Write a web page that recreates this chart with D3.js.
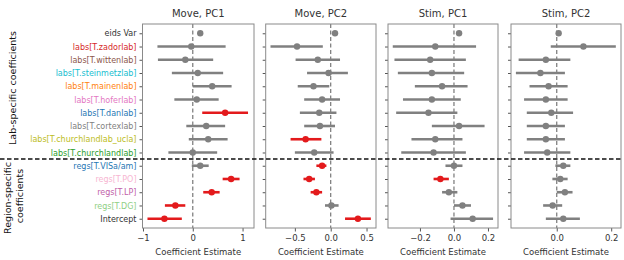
<!DOCTYPE html>
<html>
<head>
<meta charset="utf-8">
<script src="https://cdn.jsdelivr.net/npm/d3@7"></script>
<style>
  body { margin: 0; background: #fff; }
  text { font-family: "DejaVu Sans", sans-serif; }
</style>
</head>
<body>
<div id="chart"></div>
<script>
// row labels, top to bottom
const rows = ["eids Var", "labs[T.zadorlab]", "labs[T.wittenlab]", "labs[T.steinmetzlab]",
  "labs[T.mainenlab]", "labs[T.hoferlab]", "labs[T.danlab]", "labs[T.cortexlab]",
  "labs[T.churchlandlab_ucla]", "labs[T.churchlandlab]", "regs[T.VISa/am]", "regs[T.PO]",
  "regs[T.LP]", "regs[T.DG]", "Intercept"];
const rowColors = ["#333333", "#d62728", "#8c564b", "#17becf", "#ff7f0e", "#e377c2", "#1f77b4",
  "#7f7f7f", "#bcbd22", "#2ca02c", "#1f77b4", "#f7b6d2", "#c15fa9", "#8fcf84", "#333333"];

const titles = ["Move, PC1", "Move, PC2", "Stim, PC1", "Stim, PC2"];

// estimates and 95% intervals, one set per panel
const movePC1_est = [0.15, -0.03, -0.15, 0.10, 0.39, 0.08, 0.65, 0.27, 0.31, 0.00, 0.15, 0.77, 0.38, -0.35, -0.57];
const movePC1_lo  = [0.15, -0.71, -0.70, -0.42, 0.00, -0.37, 0.19, -0.13, -0.08, -0.49, -0.02, 0.60, 0.21, -0.56, -0.91];
const movePC1_hi  = [0.15, 0.66, 0.41, 0.61, 0.78, 0.52, 1.11, 0.65, 0.70, 0.49, 0.32, 0.94, 0.54, -0.15, -0.22];
const movePC1_sig = [0, 0, 0, 0, 0, 0, 1, 0, 0, 0, 0, 1, 1, 1, 1];

const movePC2_est = [0.06, -0.47, -0.18, -0.03, -0.24, -0.12, -0.16, -0.15, -0.35, -0.23, -0.12, -0.30, -0.20, 0.01, 0.38];
const movePC2_lo  = [0.06, -0.84, -0.49, -0.33, -0.46, -0.37, -0.43, -0.37, -0.56, -0.50, -0.20, -0.38, -0.28, -0.08, 0.20];
const movePC2_hi  = [0.06, -0.11, 0.13, 0.24, -0.02, 0.13, 0.08, 0.06, -0.13, 0.04, -0.06, -0.22, -0.12, 0.11, 0.56];
const movePC2_sig = [0, 0, 0, 0, 0, 0, 0, 0, 1, 0, 1, 1, 1, 0, 1];

const stimPC1_est = [0.03, -0.11, -0.14, -0.13, -0.07, -0.13, -0.15, 0.03, -0.11, -0.12, 0.00, -0.08, -0.03, 0.05, 0.11];
const stimPC1_lo  = [0.03, -0.36, -0.35, -0.33, -0.23, -0.30, -0.34, -0.13, -0.25, -0.31, -0.05, -0.12, -0.07, 0.00, -0.02];
const stimPC1_hi  = [0.03, 0.13, 0.07, 0.06, 0.08, 0.04, 0.02, 0.18, 0.05, 0.07, 0.05, -0.03, 0.02, 0.10, 0.23];
const stimPC1_sig = [0, 0, 0, 0, 0, 0, 0, 0, 0, 0, 0, 1, 0, 0, 0];

const stimPC2_est = [0.007, 0.098, -0.04, -0.06, -0.03, -0.04, -0.02, -0.04, -0.04, -0.035, 0.024, 0.013, 0.03, -0.015, 0.024];
const stimPC2_lo  = [0.007, -0.022, -0.14, -0.15, -0.10, -0.12, -0.11, -0.11, -0.11, -0.12, -0.005, -0.016, 0.00, -0.05, -0.04];
const stimPC2_hi  = [0.007, 0.217, 0.05, 0.03, 0.04, 0.04, 0.06, 0.03, 0.03, 0.05, 0.05, 0.04, 0.058, 0.02, 0.085];
const stimPC2_sig = [0, 0, 0, 0, 0, 0, 0, 0, 0, 0, 0, 0, 0, 0, 0];

const xTicks = [[-1, 0, 1], [-0.5, 0, 0.5], [-0.2, 0, 0.2], [0, 0.2]];

const est = [movePC1_est, movePC2_est, stimPC1_est, stimPC2_est];
const lo = [movePC1_lo, movePC2_lo, stimPC1_lo, stimPC2_lo];
const hi = [movePC1_hi, movePC2_hi, stimPC1_hi, stimPC2_hi];
const sig = [movePC1_sig, movePC2_sig, stimPC1_sig, stimPC2_sig];

// layout
const width = 624, height = 260;
const plotTop = 24, plotBottom = 228;
const panelX = [[142.5, 254], [265.7, 376], [388, 498], [511, 621]];
const xDomains = [[-1.01, 1.23], [-0.907, 0.632], [-0.388, 0.259], [-0.168, 0.236]];

const gray = "#808080", red = "#e31a1c";

const svg = d3.select("#chart").append("svg")
  .attr("width", width)
  .attr("height", height);

const y = d3.scalePoint()
  .domain(rows)
  .range([plotTop, plotBottom])
  .padding(0.7);

titles.forEach(function(t, p) {
  const x = d3.scaleLinear().domain(xDomains[p]).range(panelX[p]);
  const g = svg.append("g");

  // zero line
  g.append("line")
    .attr("x1", x(0)).attr("x2", x(0))
    .attr("y1", plotTop).attr("y2", plotBottom)
    .attr("stroke", "#777").attr("stroke-width", 1.2)
    .attr("stroke-dasharray", "4,2.5");

  // y axis (labels only on first panel)
  const yAxis = g.append("g")
    .attr("transform", `translate(${panelX[p][0]},0)`)
    .call(d3.axisLeft(y).tickSize(3).tickPadding(3).tickFormat(p == 0 ? null : ""));
  yAxis.select(".domain").remove();
  yAxis.selectAll("line").attr("stroke", "#555");
  yAxis.selectAll("text")
    .style("font-size", "8px")
    .attr("fill", function(d, i) { return rowColors[i]; });

  // x axis
  const xAxis = g.append("g")
    .attr("transform", `translate(0,${plotBottom})`)
    .call(d3.axisBottom(x).tickValues(xTicks[p]).tickSize(3.5).tickPadding(3)
      .tickFormat(function(d) {
        if (p == 0) return d3.format("d")(d).replace("-", "\u2212");
        return d3.format(".1f")(d).replace("-", "\u2212");
      }));
  xAxis.select(".domain").remove();
  xAxis.selectAll("line").attr("stroke", "#555");
  xAxis.selectAll("text").style("font-size", "8.5px").attr("fill", "#333");

  // error bars
  g.selectAll(".bar")
    .data(rows)
    .enter().append("line")
    .attr("x1", function(d, i) { return x(lo[p][i]); })
    .attr("x2", function(d, i) { return x(hi[p][i]); })
    .attr("y1", function(d) { return y(d); })
    .attr("y2", function(d) { return y(d); })
    .attr("stroke", function(d, i) { return sig[p][i] ? red : gray; })
    .attr("stroke-width", 2.6);

  g.selectAll(".dot")
    .data(rows)
    .enter().append("circle")
    .attr("cx", function(d, i) { return x(est[p][i]); })
    .attr("cy", function(d) { return y(d); })
    .attr("r", 3.2)
    .attr("fill", function(d, i) { return sig[p][i] ? red : gray; });

  // frame
  g.append("rect")
    .attr("x", panelX[p][0]).attr("y", plotTop)
    .attr("width", panelX[p][1] - panelX[p][0]).attr("height", plotBottom - plotTop)
    .attr("fill", "none").attr("stroke", "#8a8a8a").attr("stroke-width", 1);

  g.append("text")
    .attr("x", (panelX[p][0] + panelX[p][1]) / 2)
    .attr("y", 17)
    .attr("text-anchor", "middle")
    .style("font-size", "10px")
    .attr("fill", "#333")
    .text(t);

  g.append("text")
    .attr("x", (panelX[p][0] + panelX[p][1]) / 2)
    .attr("y", 255)
    .attr("text-anchor", "middle")
    .style("font-size", "8.5px")
    .attr("fill", "#333")
    .text("Coefficient Estimate");
});

// separator between lab and region coefficients
const sepY = (y(rows[9]) + y(rows[10])) / 2;
svg.append("line")
  .attr("x1", 0).attr("x2", 622)
  .attr("y1", sepY).attr("y2", sepY)
  .attr("stroke", "#111").attr("stroke-width", 1.5)
  .attr("stroke-dasharray", "4.5,2.5");

// group labels
svg.append("text")
  .attr("transform", "translate(16,88) rotate(-90)")
  .attr("text-anchor", "middle")
  .style("font-size", "9.5px")
  .attr("fill", "#111")
  .text("Lab-specific coefficients");

svg.append("text")
  .attr("transform", "translate(11,198) rotate(-90)")
  .attr("text-anchor", "middle")
  .style("font-size", "9.5px")
  .attr("fill", "#111")
  .text("Region-specific");

svg.append("text")
  .attr("transform", "translate(23,196) rotate(-90)")
  .attr("text-anchor", "middle")
  .style("font-size", "9.5px")
  .attr("fill", "#111")
  .text("coefficients");
</script>
</body>
</html>
